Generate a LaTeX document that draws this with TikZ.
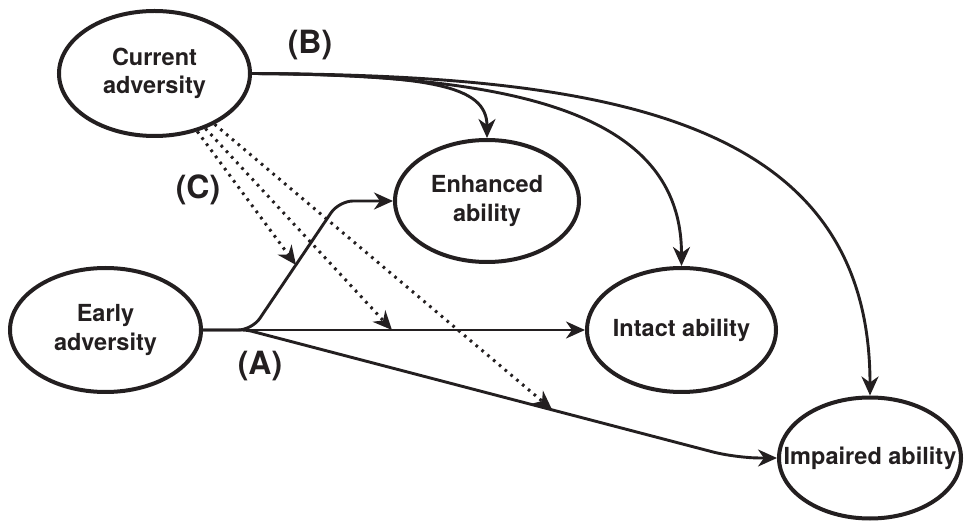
\documentclass[tikz,border=0pt]{standalone}
\usepackage{fontspec}
\setmainfont{TeX Gyre Heros}
\usetikzlibrary{shapes.geometric,arrows.meta}
\definecolor{ink}{RGB}{35,31,32}
\begin{document}
\begin{tikzpicture}[x=1pt,y=-1pt,
  oval/.style={ellipse, draw=ink, text=ink, line width=4pt, inner sep=0pt, align=center,
    font=\bfseries\fontsize{23.5}{28.5}\selectfont},
  tipA/.style={-{Stealth[length=19pt,width=17pt,inset=6pt]}},
  conn/.style={draw=ink, line width=2.9pt, tipA},
  dots/.style={draw=ink, line width=3pt, dash pattern=on 2.6pt off 5pt, tipA},
  lab/.style={text=ink, font=\bfseries\fontsize{32}{38}\selectfont}]
\useasboundingbox (0,0) rectangle (964,526);
% nodes
\node[oval, minimum width=191pt, minimum height=125pt] (cur) at (154.5,73.5) {Current\\adversity};
\node[oval, minimum width=184pt, minimum height=122pt] (enh) at (487,201) {Enhanced\\ability};
\node[oval, minimum width=191pt, minimum height=124pt] (early) at (105.5,330) {Early\\adversity};
\node[oval, minimum width=189pt, minimum height=124pt] (int) at (681.5,330) {\makebox[0pt]{Intact ability}};
\node[oval, minimum width=182pt, minimum height=121pt] (imp) at (870,458) {\makebox[0pt]{Impaired ability}};
% labels
\node[lab] (labB) at (310,45) {(B)};
\node[lab] (labC) at (198,190) {(C)};
\node[lab] (labA) at (260,366) {(A)};
% (A) paths from early adversity
\draw[conn] (early.east) -- (int.west);
\draw[conn, rounded corners=14pt] (early.east) -- (252,330) -- (339,201) -- (enh.west);
\draw[conn] (early.east) [rounded corners=5pt] -- (247,330) [rounded corners=24pt] -- (736,458) -- (imp.west);
% (B) paths from current adversity
\draw[conn] (cur.east) .. controls (430,75) and (enh.north |- 0,85) .. (enh.north);
\draw[conn] (cur.east) .. controls (510,75) and (int.north |- 0,110) .. (int.north);
\draw[conn] (cur.east) .. controls (610,75) and (imp.north |- 0,118) .. (imp.north);
% (C) moderation paths
\coordinate (m1) at (296,265);
\coordinate (m2) at (392,330);
\coordinate (m3) at (552,409.5);
\draw[dots] (cur) -- (m1);
\draw[dots] (cur) -- (m2);
\draw[dots] (cur) -- (m3);
\end{tikzpicture}
\end{document}
